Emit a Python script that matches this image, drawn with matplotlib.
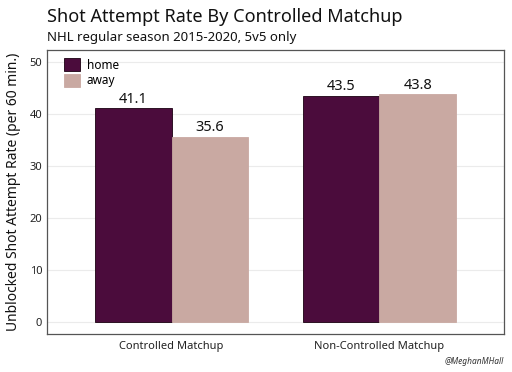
import matplotlib
matplotlib.use("Agg")
import matplotlib.pyplot as plt
import numpy as np

categories = ["Controlled Matchup", "Non-Controlled Matchup"]
series_names = ["home", "away"]
home_values = [41.1, 43.5]
away_values = [35.6, 43.8]
colors = {"home": "#4B0C3C", "away": "#C9A9A2"}

plt.rcParams['font.family'] = ['Noto Sans', 'DejaVu Sans']

fig = plt.figure(figsize=(5.12, 3.72), dpi=100)
ax = fig.add_axes([47/512, 1-334/372, (504-47)/512, (334-50)/372])

x = np.arange(1, len(categories) + 1)
w = 0.37
b1 = ax.bar(x - w/2, home_values, w, color=colors["home"], edgecolor="#1a0010", linewidth=0.6, label="home", zorder=3)
b2 = ax.bar(x + w/2, away_values, w, color=colors["away"], edgecolor=colors["away"], linewidth=0.6, label="away", zorder=3)
for bars, vals in ((b1, home_values), (b2, away_values)):
    for r, v in zip(bars, vals):
        ax.text(r.get_x() + r.get_width()/2, v + 0.3, f"{v:.1f}", ha="center", va="bottom",
                fontsize=10.5, color="#111111")

ax.set_xlim(0.4, 2.6)
ax.set_ylim(-2.3, 52.3)
ax.set_yticks([0, 10, 20, 30, 40, 50])
ax.set_xticks(x)
ax.set_xticklabels(categories)
ax.tick_params(axis="both", length=0, labelsize=8, colors="#222222")
ax.tick_params(axis="x", pad=5)
ax.grid(axis="y", color="#EBEBEB", linewidth=0.8, zorder=0)
for s in ax.spines.values():
    s.set_color("#555555")
    s.set_linewidth(0.9)
ax.set_ylabel("Unblocked Shot Attempt Rate (per 60 min.)", fontsize=10, color="#111111", labelpad=6)

leg = ax.legend(loc="upper left", frameon=False, fontsize=8.5, handlelength=1.3, handleheight=1.3,
                bbox_to_anchor=(0.02, 1.0), borderaxespad=0.3, labelspacing=0.2, handletextpad=0.6)

fig.text(47/512, 1-17/372, "Shot Attempt Rate By Controlled Matchup", fontsize=13, va="center", ha="left", color="#111111")
fig.text(47/512, 1-38/372, "NHL regular season 2015-2020, 5v5 only", fontsize=9.5, va="center", ha="left", color="#111111")
fig.text(504/512, 1-361/372, "@MeghanMHall", fontsize=6, style="italic", va="center", ha="right", color="#333333")

fig.savefig("out.png", dpi=100, facecolor="white")
